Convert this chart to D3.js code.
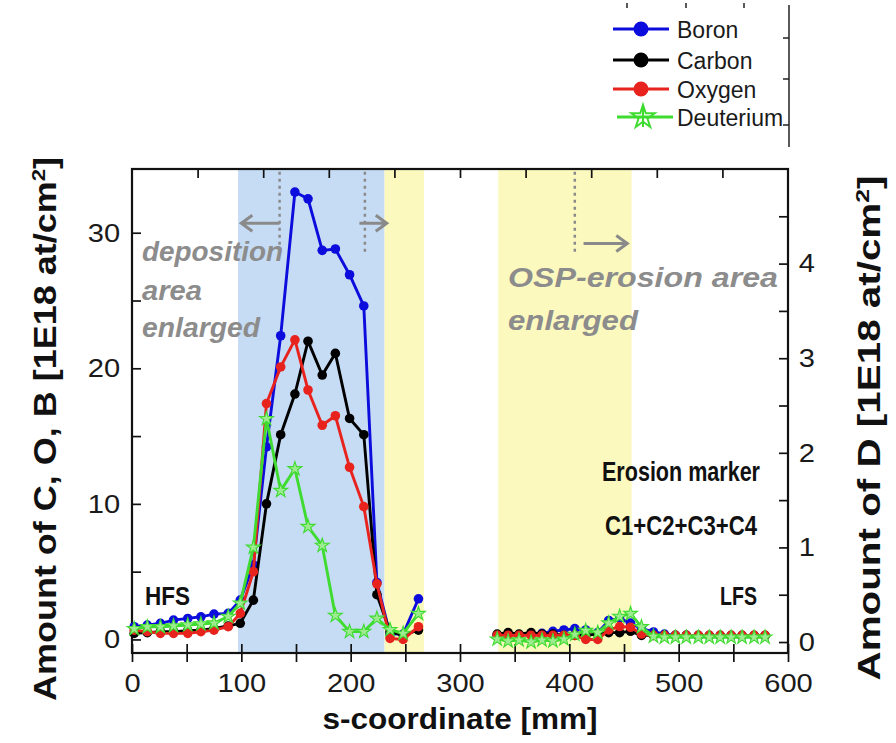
<!DOCTYPE html>
<html>
<head>
<meta charset="utf-8">
<script src="https://cdn.jsdelivr.net/npm/d3@7"></script>
<style>
  body { margin: 0; background: #fff; }
  text { font-family: "Liberation Sans", Arial, sans-serif; }
</style>
</head>
<body>
<div id="chart"></div>
<script>
// s-coordinate of the measured points [mm]
var sHFS = [2, 14, 26, 38, 51, 63, 75, 88, 99, 111, 123, 136, 149, 161, 174, 186, 199, 212, 224, 236, 248, 262];
var sLFS = [334, 344, 354, 365, 375, 385, 395, 405, 415, 426, 436, 446, 456, 466, 477, 487, 497, 507, 518, 528, 538, 548, 558, 569, 579];

// B, C, O in 1E18 at/cm2 (left axis)
var boronHFS  = [0.94, 1.06, 1.19, 1.43, 1.55, 1.67, 1.87, 1.92, 2.9, 5.5, 14.2, 22.4, 33.0, 32.5, 28.7, 28.8, 26.9, 24.6, 4.2, 0.4, 0.4, 3.0];
var carbonHFS = [0.45, 0.5, 0.57, 0.57, 0.64, 0.69, 0.82, 0.99, 1.19, 2.9, 10.0, 15.1, 18.1, 22.0, 19.5, 21.1, 16.3, 15.1, 3.3, 0.57, 0.32, 0.69];
var oxygenHFS = [0.69, 0.57, 0.45, 0.45, 0.45, 0.57, 0.69, 0.94, 1.92, 5.0, 17.4, 20.1, 22.1, 18.4, 15.8, 16.5, 12.7, 9.8, 4.1, 0.08, 0.0, 0.94];
var boronLFS  = [0.3, 0.4, 0.3, 0.4, 0.45, 0.6, 0.7, 0.8, 0.7, 0.5, 1.4, 1.55, 1.2, 0.8, 0.55, 0.4, 0.3, 0.3, 0.25, 0.25, 0.25, 0.25, 0.25, 0.25, 0.25];
var carbonLFS = [0.4, 0.5, 0.4, 0.5, 0.4, 0.4, 0.3, 0.3, 0.3, 0.4, 0.5, 0.5, 0.6, 0.3, 0.3, 0.3, 0.3, 0.3, 0.3, 0.3, 0.3, 0.3, 0.3, 0.3, 0.3];
var oxygenLFS = [0.3, 0.3, 0.3, 0.3, 0.3, 0.3, 0.3, 0.3, 0.0, 0.0, 0.7, 0.95, 0.9, 0.4, 0.3, 0.3, 0.3, 0.3, 0.3, 0.3, 0.3, 0.3, 0.3, 0.3, 0.3];

// D in 1E18 at/cm2 (right axis)
var deutHFS = [0.14, 0.16, 0.16, 0.17, 0.18, 0.19, 0.20, 0.27, 0.41, 1.0, 2.36, 1.60, 1.83, 1.22, 1.02, 0.28, 0.11, 0.11, 0.25, 0.13, 0.09, 0.30];
var deutLFS = [0.03, 0.01, 0.02, 0.0, 0.02, 0.01, 0.03, 0.08, 0.12, 0.1, 0.2, 0.27, 0.30, 0.16, 0.06, 0.05, 0.05, 0.05, 0.05, 0.05, 0.05, 0.05, 0.05, 0.05, 0.05];

var xTicks = [0, 100, 200, 300, 400, 500, 600];
var xMinor = [50, 150, 250, 350, 450, 550];
var xTopTicks = [60, 120, 180, 240, 300, 360, 420, 480, 540];
var yTicks = [0, 10, 20, 30];
var yMinor = [5, 15, 25];
var dTicks = [0, 1, 2, 3, 4];
var dMinor = [0.5, 1.5, 2.5, 3.5, 4.5];

// shaded s-ranges [mm]
var depositionZone = [97, 231];
var erosionZones = [[231, 267], [335, 457]];
// positions of the dotted guides [mm]
var guides = [135, 213, 405];

var width = 896, height = 743;
var plotL = 132, plotR = 788, plotT = 169, plotB = 653;

var svg = d3.select("#chart")
    .append("svg")
    .attr("width", width)
    .attr("height", height)
    .style("background", "#fff");

var x = d3.scaleLinear().domain([0, 600]).range([plotL, plotR]);
var y = d3.scaleLinear().domain([-1, 34.7]).range([plotB, plotT]);
var yD = d3.scaleLinear().domain([-0.116, 5.0]).range([plotB, plotT]);

// background zones
svg.append("rect")
    .attr("x", x(depositionZone[0]))
    .attr("y", plotT)
    .attr("width", x(depositionZone[1]) - x(depositionZone[0]))
    .attr("height", plotB - plotT)
    .attr("fill", "#c6dcf4");

svg.selectAll("rect.zone")
    .data(erosionZones)
    .enter()
    .append("rect")
    .attr("class", "zone")
    .attr("x", function (d) { return x(d[0]); })
    .attr("y", plotT)
    .attr("width", function (d) { return x(d[1]) - x(d[0]); })
    .attr("height", plotB - plotT)
    .attr("fill", "#fcf9bf");

// dotted guides + arrows
svg.selectAll("line.guide")
    .data(guides)
    .enter()
    .append("line")
    .attr("class", "guide")
    .attr("x1", function (d) { return x(d); })
    .attr("x2", function (d) { return x(d); })
    .attr("y1", y(34.5))
    .attr("y2", y(28.5))
    .attr("stroke", "#8a8a8a")
    .attr("stroke-width", 2.5)
    .attr("stroke-dasharray", "3,4");

var arrows = [
    { from: 135, to: 100, v: 30.7 },
    { from: 208, to: 233, v: 30.7 },
    { from: 413, to: 453, v: 29.2 }
];
arrows.forEach(function (a) {
    var x1 = x(a.from), x2 = x(a.to), yy = y(a.v);
    var dir = x2 > x1 ? 1 : -1;
    svg.append("path")
        .attr("d", "M" + x1 + "," + yy + "H" + x2 +
            "M" + (x2 - dir * 11) + "," + (yy - 8) + "L" + x2 + "," + yy + "L" + (x2 - dir * 11) + "," + (yy + 8))
        .attr("fill", "none")
        .attr("stroke", "#8a8a8a")
        .attr("stroke-width", 3);
});

// axes
function styleTicks(g) {
    g.select(".domain").remove();
    g.selectAll("line").attr("stroke", "#111").attr("stroke-width", 1.7);
}

svg.append("g")
    .attr("transform", "translate(0," + plotB + ")")
    .call(d3.axisBottom(x).tickValues(xTicks.concat(xMinor)).tickSize(9).tickPadding(12)
        .tickFormat(function (d) { return xTicks.indexOf(d) >= 0 ? d : ""; }))
    .call(styleTicks);
svg.append("g")
    .attr("transform", "translate(0," + plotB + ")")
    .call(d3.axisTop(x).tickValues(xTicks.concat(xMinor)).tickSize(9).tickFormat(""))
    .call(styleTicks);
svg.append("g")
    .attr("transform", "translate(0," + plotT + ")")
    .call(d3.axisTop(x).tickValues(xTopTicks).tickSize(-9).tickFormat(""))
    .call(styleTicks);
svg.append("g")
    .attr("transform", "translate(" + plotL + ",0)")
    .call(d3.axisLeft(y).tickValues(yTicks.concat(yMinor)).tickSize(-9).tickPadding(10.5)
        .tickFormat(function (d) { return yTicks.indexOf(d) >= 0 ? d : ""; }))
    .call(styleTicks);
svg.append("g")
    .attr("transform", "translate(" + plotR + ",0)")
    .call(d3.axisRight(yD).tickValues(dTicks.concat(dMinor)).tickSize(-9).tickPadding(9.5)
        .tickFormat(function (d) { return dTicks.indexOf(d) >= 0 ? d : ""; }))
    .call(styleTicks);

svg.selectAll(".tick text")
    .attr("font-size", 26)
    .attr("font-family", "Liberation Sans, Arial, sans-serif")
    .attr("fill", "#1a1a1a")
    .attr("transform", "scale(1.12,1)");

svg.append("rect")
    .attr("x", plotL).attr("y", plotT)
    .attr("width", plotR - plotL).attr("height", plotB - plotT)
    .attr("fill", "none")
    .attr("stroke", "#111")
    .attr("stroke-width", 2.2);

// data
var series = [
    { name: "Boron", color: "#0c0cdc", parts: [[sHFS, boronHFS], [sLFS, boronLFS]], scale: y },
    { name: "Carbon", color: "#000000", parts: [[sHFS, carbonHFS], [sLFS, carbonLFS]], scale: y },
    { name: "Oxygen", color: "#e8231e", parts: [[sHFS, oxygenHFS], [sLFS, oxygenLFS]], scale: y },
    { name: "Deuterium", color: "#3fdb30", parts: [[sHFS, deutHFS], [sLFS, deutLFS]], scale: yD, star: true }
];

var star = d3.symbol().type(d3.symbolStar).size(60);

series.forEach(function (sr) {
    sr.parts.forEach(function (p) {
        var pts = p[0].map(function (s, i) { return [s, p[1][i]]; });
        var line = d3.line()
            .x(function (d) { return x(d[0]); })
            .y(function (d) { return sr.scale(d[1]); });
        svg.append("path")
            .datum(pts)
            .attr("d", line)
            .attr("fill", "none")
            .attr("stroke", sr.color)
            .attr("stroke-width", 2.9);
        if (sr.star) {
            svg.selectAll(null)
                .data(pts)
                .enter()
                .append("path")
                .attr("d", star)
                .attr("transform", function (d) { return "translate(" + x(d[0]) + "," + sr.scale(d[1]) + ")"; })
                .attr("fill", "#9ceb8e")
                .attr("stroke", sr.color)
                .attr("stroke-width", 1.1);
        } else {
            svg.selectAll(null)
                .data(pts)
                .enter()
                .append("circle")
                .attr("cx", function (d) { return x(d[0]); })
                .attr("cy", function (d) { return sr.scale(d[1]); })
                .attr("r", 4.8)
                .attr("fill", sr.color);
        }
    });
});

// annotations
function note(txt, tx, ty, size, color, opts) {
    opts = opts || {};
    var t = svg.append("text")
        .attr("transform", "translate(" + tx + "," + ty + ")")
        .attr("font-size", size)
        .attr("font-weight", "bold")
        .attr("fill", color)
        .attr("text-anchor", opts.anchor || "start")
        .text(txt);
    if (opts.italic) t.attr("font-style", "italic");
    if (opts.len) t.attr("textLength", opts.len).attr("lengthAdjust", "spacingAndGlyphs");
    return t;
}

var grey = "#8c8c8c";
note("deposition", 142, 261, 27, grey, { italic: true, len: 141 });
note("area", 142, 300, 27, grey, { italic: true, len: 60 });
note("enlarged", 142, 337, 27, grey, { italic: true, len: 118 });
note("OSP-erosion area", 508, 287, 27, grey, { italic: true, len: 270 });
note("enlarged", 508, 330, 27, grey, { italic: true, len: 130 });

note("Erosion marker", 681, 481, 27, "#111", { anchor: "middle", len: 158 });
note("C1+C2+C3+C4", 681, 535, 27, "#111", { anchor: "middle", len: 152 });
note("HFS", 145, 605, 25, "#111", { len: 45 });
note("LFS", 720, 605, 25, "#111", { len: 37 });

// axis titles
svg.append("text")
    .attr("transform", "translate(460,729)")
    .attr("text-anchor", "middle")
    .attr("font-size", 30)
    .attr("font-weight", "bold")
    .attr("fill", "#111")
    .attr("textLength", 275)
    .attr("lengthAdjust", "spacingAndGlyphs")
    .text("s-coordinate [mm]");

function yTitle(tx, ty, len, main) {
    var t = svg.append("text")
        .attr("transform", "translate(" + tx + "," + ty + ") rotate(-90)")
        .attr("text-anchor", "middle")
        .attr("font-size", 31)
        .attr("font-weight", "bold")
        .attr("fill", "#111")
        .attr("textLength", len)
        .attr("lengthAdjust", "spacingAndGlyphs");
    t.append("tspan").text(main + " [1E18 at/cm");
    t.append("tspan").attr("dy", -11).attr("font-size", 19).text("2");
    t.append("tspan").attr("dy", 11).text("]");
}
yTitle(56, 429, 544, "Amount of C, O, B");
yTitle(880, 428, 505, "Amount of D");

// legend
var legendRows = [29, 60, 89, 117];
var lg = svg.append("g");
series.forEach(function (sr, i) {
    var ly = legendRows[i];
    var x0 = sr.star ? 617 : 613;
    lg.append("line")
        .attr("x1", x0).attr("x2", x0 + 56)
        .attr("y1", ly).attr("y2", ly)
        .attr("stroke", sr.color)
        .attr("stroke-width", 3);
    if (sr.star) {
        lg.append("path")
            .attr("d", d3.symbol().type(d3.symbolStar).size(170)())
            .attr("transform", "translate(643," + ly + ")")
            .attr("fill", "none")
            .attr("stroke", sr.color)
            .attr("stroke-width", 2);
        lg.append("line")
            .attr("x1", 643).attr("x2", 643)
            .attr("y1", ly - 10).attr("y2", ly + 10)
            .attr("stroke", sr.color)
            .attr("stroke-width", 2);
    } else {
        lg.append("circle")
            .attr("cx", 641).attr("cy", ly).attr("r", 7.5)
            .attr("fill", sr.color);
    }
    lg.append("text")
        .attr("transform", "translate(677," + (ly + 8.5) + ")")
        .attr("font-size", 23)
        .attr("fill", "#1a1a1a")
        .text(sr.name);
});

// leftover edge of the panel above
var upper = svg.append("g").attr("stroke", "#222").attr("stroke-width", 1.5);
upper.append("line").attr("x1", 789).attr("x2", 789).attr("y1", 5).attr("y2", 147);
[38, 79, 125].forEach(function (t) {
    upper.append("line").attr("x1", 783).attr("x2", 789).attr("y1", t).attr("y2", t);
});
[627, 686, 744].forEach(function (t) {
    upper.append("line").attr("x1", t).attr("x2", t).attr("y1", 3).attr("y2", 8);
});
</script>
</body>
</html>
